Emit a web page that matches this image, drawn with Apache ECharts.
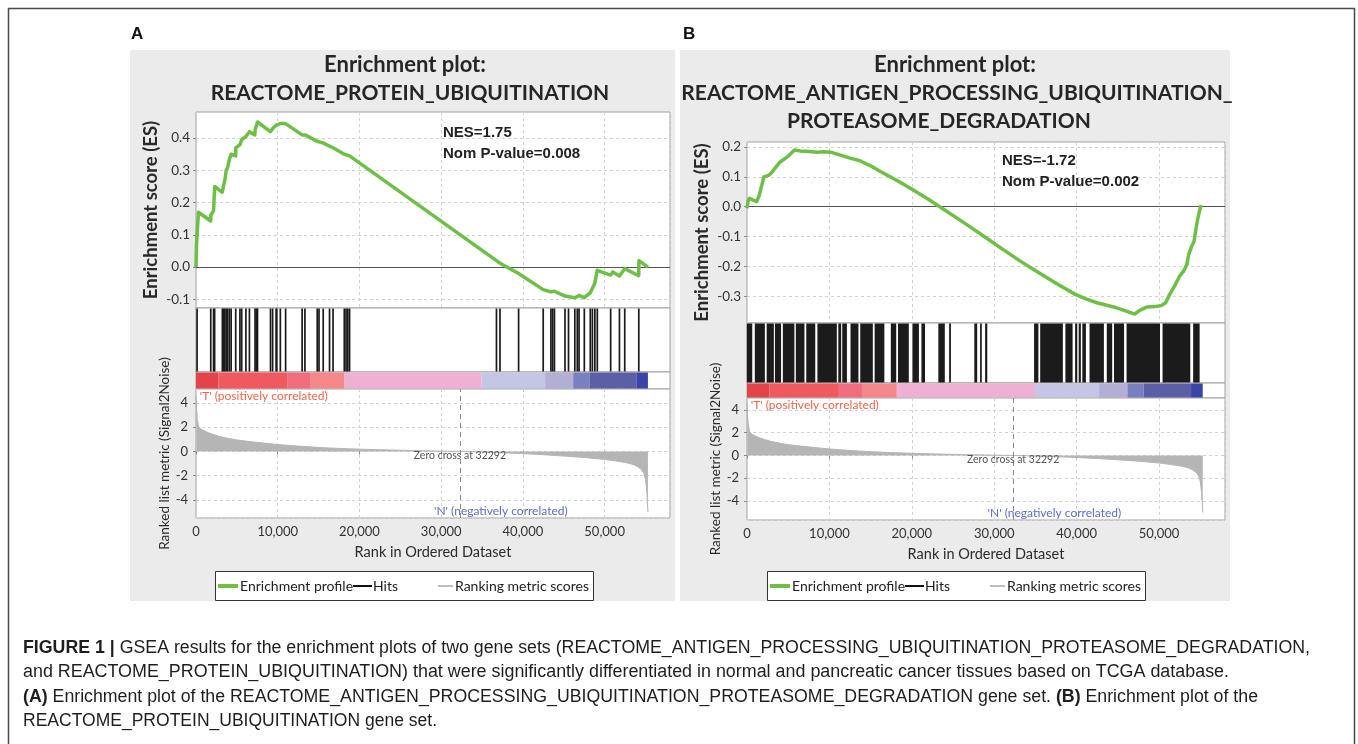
<!DOCTYPE html>
<html><head><meta charset="utf-8">
<script src="https://cdn.jsdelivr.net/npm/echarts@6/dist/echarts.min.js"></script>
<style>html,body{margin:0;padding:0;background:#fff}#c{width:1358px;height:744px}</style>
</head><body><div id="c"></div>
<script>
// ---------------- DATA ----------------
const rankMax = 58000;
const zeroCross = 32292;
const titleA = ['Enrichment plot:', 'REACTOME_PROTEIN_UBIQUITINATION'];
const titleB = ['Enrichment plot:', 'REACTOME_ANTIGEN_PROCESSING_UBIQUITINATION_', 'PROTEASOME_DEGRADATION'];
const statsA = ['NES=1.75', 'Nom P-value=0.008'];
const statsB = ['NES=-1.72', 'Nom P-value=0.002'];
const legendNames = ['Enrichment profile', 'Hits', 'Ranking metric scores'];

// running enrichment score, panel A: [rank, ES]
const esA = [[0,0],[60,0.07],[300,0.17],[1800,0.143],[1810,0.16],[2150,0.175],[2280,0.25],[3200,0.232],[3360,0.25],[3530,0.27],[3700,0.3],[3880,0.31],[4090,0.335],[4300,0.35],[4860,0.345],[4870,0.37],[5380,0.38],[5600,0.395],[6110,0.405],[6540,0.42],[7200,0.41],[7230,0.425],[7530,0.45],[9100,0.42],[9380,0.43],[9800,0.44],[10320,0.445],[10960,0.445],[12980,0.41],[13330,0.41],[14840,0.39],[15570,0.385],[16340,0.375],[16770,0.37],[18150,0.35],[18790,0.345],[36760,0.02],[37200,0.012],[39470,-0.02],[42480,-0.07],[43430,-0.077],[43860,-0.075],[45150,-0.09],[46350,-0.095],[46870,-0.088],[47500,-0.095],[48250,-0.08],[48800,-0.05],[49100,-0.01],[50740,-0.025],[51000,-0.015],[51815,-0.028],[52460,-0.005],[54170,-0.027],[54200,0.02],[55300,0.0]];
// running enrichment score, panel B
const esB = [[0,-0.005],[150,0.02],[300,0.028],[740,0.022],[1180,0.017],[1500,0.04],[2050,0.1],[2620,0.105],[3000,0.115],[3360,0.128],[4020,0.15],[4890,0.167],[5760,0.19],[6500,0.187],[7510,0.185],[8500,0.183],[9260,0.184],[10130,0.183],[11440,0.172],[12500,0.163],[13620,0.155],[15000,0.137],[16240,0.117],[18200,0.088],[20170,0.056],[22000,0.025],[23670,-0.005],[26720,-0.061],[29000,-0.104],[31090,-0.144],[33300,-0.185],[35460,-0.222],[37700,-0.26],[39830,-0.294],[41200,-0.31],[42450,-0.322],[44850,-0.339],[46200,-0.352],[47030,-0.36],[47700,-0.347],[48560,-0.336],[49500,-0.335],[50310,-0.331],[50800,-0.322],[51180,-0.3],[51900,-0.265],[52490,-0.233],[53000,-0.215],[53360,-0.195],[53600,-0.16],[53800,-0.145],[54000,-0.13],[54240,-0.117],[54450,-0.08],[54670,-0.044],[54900,-0.015],[55110,0.006]];

// hit positions (rank), panel A
const hitsA = [130,1806,2150,2279,3225,3354,3526,3698,3870,4085,4300,4859,5375,5590,6106,6536,7224,7396,7525,9116,9374,9804,9890,10320,10965,12986,13330,14835,15050,15566,16340,16770,18146,18361,18576,18791,36765,37195,39474,42484,43430,43645,43860,45150,45580,46354,46655,46870,47515,48246,48504,48805,49106,50740,51815,52460,54180];
// hit blocks (rank ranges), panel B (dense hits)
const hitsB = [[87,742],[1048,2271],[2489,3363],[3494,4236],[4454,5852],[6026,7074],[7293,8385],[8647,11005],[11180,11529],[11660,12228],[12664,13625],[13843,15372],[15590,16769],[17555,18210],[18428,19738],[20175,20962],[21268,21705],[23320,24106],[24630,24848],[27686,28035],[28385,28559],[28996,29258],[34936,35460],[35678,38430],[38736,39609],[39915,40178],[40353,40615],[40790,41226],[41663,43410],[43759,44414],[44632,45855],[46160,50220],[50526,53889],[54238,55024]];

// colour bar boundaries (rank) and segment colours
const barBounds = [0,2750,11150,13950,18180,34950,42720,46150,48140,53880,55300];
const barColors = ['#e2444a','#f05a5f','#f06d7d','#f58788','#efb1d1','#c5c6e6','#b2aed6','#7980c0','#5a5fa6','#3a46a6'];

// ranked list metric (Signal2Noise)
const metricRank = [0,60,150,300,600,1000,1500,2200,3000,4000,5000,6500,8000,10000,12500,15000,17500,20000,23000,26000,29000,32292,35000,38000,40000,42500,45000,47500,50000,51500,52800,53600,54100,54500,54800,55000,55150,55300];
const metricVal  = [4.6,3.6,2.7,2.1,1.85,1.7,1.55,1.38,1.22,1.07,0.95,0.82,0.71,0.57,0.44,0.33,0.25,0.19,0.13,0.08,0.04,0,-0.05,-0.12,-0.18,-0.27,-0.38,-0.5,-0.66,-0.8,-0.95,-1.1,-1.28,-1.5,-1.8,-2.3,-3.2,-5.0];

const esRangeA = [-0.127, 0.481];
const esRangeB = [-0.39, 0.217];
const metRangeA = [-5.5, 5.16];
const metRangeB = [-5.66, 5.04];

// caption text (b = bold run, n = normal run)
const captionLines = [
  [['b','FIGURE 1 | '],['n','GSEA results for the enrichment plots of two gene sets (REACTOME_ANTIGEN_PROCESSING_UBIQUITINATION_PROTEASOME_DEGRADATION,']],
  [['n','and REACTOME_PROTEIN_UBIQUITINATION) that were significantly differentiated in normal and pancreatic cancer tissues based on TCGA database.']],
  [['b','(A)'],['n',' Enrichment plot of the REACTOME_ANTIGEN_PROCESSING_UBIQUITINATION_PROTEASOME_DEGRADATION gene set. '],['b','(B)'],['n',' Enrichment plot of the']],
  [['n','REACTOME_PROTEIN_UBIQUITINATION gene set.']]
];

// ---------------- LAYOUT / STYLE ----------------
const FONT = 'Lato, "Open Sans", sans-serif';
const ARIAL = '"Liberation Sans", Arial, sans-serif';
const CAPFAM = '"Liberation Sans", Arial, sans-serif';
const GREEN = '#6dbf45';
const P = [
  {left:196, width:474, es:[112,196], hits:[308,64], bar:[372,17], met:[389,129], esR:esRangeA, metR:metRangeA, esData:esA},
  {left:747, width:478, es:[142,181], hits:[323,60], bar:[383,15], met:[398,122], esR:esRangeB, metR:metRangeB, esData:esB}
];
const captionY = [648, 672, 697, 721];
const captionRight = [1310, 1229, 1258, 437];
const captionLeft = 23;

const metricData = metricRank.map((r,i)=>[r, metricVal[i]]);
const grids = [], xAxes = [], yAxes = [], series = [];
const splitStyle = {type:[3,3], color:'#d2d2d2', width:1};
const fmtK = v => Math.round(v).toString().replace(/\B(?=(\d{3})+(?!\d))/g, ',');

P.forEach((p, pi) => {
  const base = pi*4;
  ['es','hits','bar','met'].forEach(k => {
    grids.push({left:p.left, width:p.width, top:p[k][0], height:p[k][1], show:true, borderColor:'#a0a0a0', borderWidth:1, backgroundColor:'#fff', containLabel:false});
  });
  xAxes.push({type:'value', gridIndex:base, min:0, max:rankMax, axisLine:{show:false}, axisTick:{show:false}, axisLabel:{show:false}, splitLine:{show:true, lineStyle:splitStyle}});
  yAxes.push({type:'value', gridIndex:base, min:p.esR[0], max:p.esR[1], axisLine:{show:false},
    axisTick:{show:true, length:3, lineStyle:{color:'#888'}},
    axisLabel:{color:'#333', fontSize:13.5, fontFamily:FONT, margin:6, showMinLabel:false, showMaxLabel:false, formatter:v=>v.toFixed(1)},
    splitLine:{show:true, lineStyle:splitStyle},
    name:'Enrichment score (ES)', nameLocation:'middle', nameGap:35, nameRotate:90,
    nameTextStyle:{fontFamily:FONT, fontWeight:'bold', fontSize:18.5, color:'#2a2a2a'}});
  xAxes.push({type:'value', gridIndex:base+1, min:0, max:rankMax, show:false});
  yAxes.push({type:'value', gridIndex:base+1, min:0, max:1, show:false});
  xAxes.push({type:'value', gridIndex:base+2, min:0, max:rankMax, show:false});
  yAxes.push({type:'value', gridIndex:base+2, min:0, max:1, show:false});
  xAxes.push({type:'value', gridIndex:base+3, min:0, max:rankMax, axisLine:{show:false},
    axisTick:{show:true, length:3, lineStyle:{color:'#888'}},
    axisLabel:{color:'#333', fontSize:13, fontFamily:FONT, margin:7, showMaxLabel:false, formatter:fmtK},
    splitLine:{show:true, lineStyle:splitStyle},
    name:'Rank in Ordered Dataset', nameLocation:'middle', nameGap:27,
    nameTextStyle:{fontFamily:FONT, fontSize:14.5, color:'#2a2a2a'}});
  yAxes.push({type:'value', gridIndex:base+3, min:p.metR[0], max:p.metR[1], axisLine:{show:false},
    axisTick:{show:true, length:3, lineStyle:{color:'#888'}},
    axisLabel:{color:'#333', fontSize:13, fontFamily:FONT, margin:8, showMinLabel:false, showMaxLabel:false},
    splitLine:{show:true, lineStyle:splitStyle},
    name:'Ranked list metric (Signal2Noise)', nameLocation:'middle', nameGap:23, nameRotate:90,
    nameTextStyle:{fontFamily:FONT, fontSize:13.5, color:'#2a2a2a'}});

  series.push({name:legendNames[0], type:'line', xAxisIndex:base, yAxisIndex:base, data:p.esData, symbol:'none',
    lineStyle:{color:GREEN, width:3.5, join:'round'}, z:5, silent:true, animation:false,
    markLine:{silent:true, symbol:['none','none'], label:{show:false}, lineStyle:{color:'#555', width:1, type:'solid'}, data:[{yAxis:0}], animation:false}});
  const hitData = pi===0 ? hitsA.map(r=>[r,r]) : hitsB;
  series.push({name:legendNames[1], type:'custom', xAxisIndex:base+1, yAxisIndex:base+1, data:hitData, silent:true, animation:false,
    renderItem:(params, api) => {
      const s = api.coord([api.value(0), 0]);
      const e = api.coord([api.value(1), 0]);
      const cs = params.coordSys;
      const w = Math.max(e[0]-s[0], 1.7);
      return {type:'rect', shape:{x:s[0]-0.85, y:cs.y+0.5, width:w, height:cs.height-1}, style:{fill:'#1b1b1b'}};
    }});
  const barData = barColors.map((c,i)=>[barBounds[i], barBounds[i+1], i]);
  series.push({name:'Ranked list colour bar', type:'custom', xAxisIndex:base+2, yAxisIndex:base+2, data:barData, silent:true, animation:false,
    renderItem:(params, api) => {
      const s = api.coord([api.value(0), 0]);
      const e = api.coord([api.value(1), 0]);
      const cs = params.coordSys;
      return {type:'rect', shape:{x:s[0], y:cs.y+0.5, width:e[0]-s[0], height:cs.height-1}, style:{fill:barColors[api.value(2)]}};
    }});
  series.push({name:legendNames[2], type:'line', xAxisIndex:base+3, yAxisIndex:base+3, data:metricData, symbol:'none',
    lineStyle:{color:'#b5b5b5', width:1}, areaStyle:{color:'#b5b5b5', opacity:1, origin:0}, silent:true, animation:false,
    markLine:{silent:true, symbol:['none','none'], label:{show:false}, lineStyle:{color:'#8a8a8a', width:1, type:[5,4]}, data:[{xAxis:zeroCross}], animation:false}});
});

// ---------------- STATIC GRAPHICS ----------------
function txt(x, y, text, style, z) {
  return {type:'text', x:x, y:y, z:z||100, silent:true, style:Object.assign({text:text, fill:'#222', textVerticalAlign:'middle'}, style)};
}
function legendGroup(x0) {
  return [
    {type:'rect', shape:{x:x0+0.5, y:571.5, width:378, height:29}, style:{fill:'#fff', stroke:'#333', lineWidth:1}, z:90, silent:true},
    {type:'line', shape:{x1:x0+3, y1:586, x2:x0+23, y2:586}, style:{stroke:GREEN, lineWidth:4}, z:95, silent:true},
    txt(x0+25, 586, legendNames[0], {font:'14px '+FONT, fill:'#222'}),
    {type:'line', shape:{x1:x0+138, y1:586, x2:x0+157, y2:586}, style:{stroke:'#111', lineWidth:2}, z:95, silent:true},
    txt(x0+158, 586, legendNames[1], {font:'14px '+FONT, fill:'#222'}),
    {type:'line', shape:{x1:x0+223, y1:586, x2:x0+238, y2:586}, style:{stroke:'#bdbdbd', lineWidth:2}, z:95, silent:true},
    txt(x0+240, 586, legendNames[2], {font:'14px '+FONT, fill:'#222'})
  ];
}
const TITLEFONT = 'bold 21px ' + FONT;
const CAPSIZE = 18;
const capFontN = CAPSIZE + 'px ' + CAPFAM;
const capFontB = 'bold ' + CAPSIZE + 'px ' + CAPFAM;
const mctx = document.createElement('canvas').getContext('2d');

const graphics = [
  {type:'rect', shape:{x:8.5, y:8.5, width:1346, height:760}, style:{fill:'#fff', stroke:'#4a4a4a', lineWidth:1.5}, z:-200, silent:true},
  {type:'rect', shape:{x:130, y:50, width:545, height:551}, style:{fill:'#ebebeb'}, z:-100, silent:true},
  {type:'rect', shape:{x:680, y:50, width:550, height:551}, style:{fill:'#ebebeb'}, z:-100, silent:true},
  txt(131, 34, 'A', {font:'bold 17px '+ARIAL, fill:'#111'}),
  txt(683, 34, 'B', {font:'bold 17px '+ARIAL, fill:'#111'}),
  txt(405, 65, titleA[0], {font:'bold 22px '+FONT, fill:'#262626', textAlign:'center'}),
  txt(410, 93, titleA[1], {font:TITLEFONT, fill:'#262626', textAlign:'center'}),
  txt(955, 65, titleB[0], {font:'bold 22px '+FONT, fill:'#262626', textAlign:'center'}),
  txt(957, 93, titleB[1], {font:TITLEFONT, fill:'#262626', textAlign:'center'}),
  txt(939, 121, titleB[2], {font:TITLEFONT, fill:'#262626', textAlign:'center'}),
  txt(443, 133, statsA[0], {font:'bold 15px '+ARIAL, fill:'#222'}),
  txt(443, 154, statsA[1], {font:'bold 15px '+ARIAL, fill:'#222'}),
  txt(1002, 161, statsB[0], {font:'bold 15px '+ARIAL, fill:'#222'}),
  txt(1002, 182, statsB[1], {font:'bold 15px '+ARIAL, fill:'#222'})
].concat(legendGroup(215), legendGroup(767));

// caption: each line scaled uniformly so it spans the same width as in the figure
captionLines.forEach((runs, i) => {
  const chunks = runs.map(r => {
    const font = r[0]==='b' ? capFontB : capFontN;
    mctx.font = font;
    return {s:r[1], font:font, w:mctx.measureText(r[1]).width};
  });
  const total = chunks.reduce((a,c)=>a+c.w, 0);
  const sx = (captionRight[i] - captionLeft) / total;
  let x = captionLeft;
  chunks.forEach(c => {
    graphics.push({type:'text', x:x, y:captionY[i], scaleX:sx, z:100, silent:true,
      style:{text:c.s, font:c.font, fill:'#1e1e1e', textVerticalAlign:'middle'}});
    x += c.w * sx;
  });
});

const chart = echarts.init(document.getElementById('c'), null, {width:1358, height:744});
chart.setOption({
  animation:false,
  backgroundColor:'transparent',
  grid:grids, xAxis:xAxes, yAxis:yAxes, series:series,
  graphic:{elements:graphics}
});

const extra = [];
P.forEach((p, pi) => {
  const gi = pi*4+3;
  const zc = chart.convertToPixel({xAxisIndex:gi, yAxisIndex:gi}, [zeroCross, 0]);
  const tp = chart.convertToPixel({xAxisIndex:gi, yAxisIndex:gi}, [450, 0]);
  const np = chart.convertToPixel({xAxisIndex:gi, yAxisIndex:gi}, [37300, 0]);
  const top = p.met[0], bot = p.met[0] + p.met[1];
  extra.push(txt(tp[0], top+7, "'T' (positively correlated)", {font:'12px '+FONT, fill:'#f0664e'}));
  extra.push(txt(np[0], bot-7, "'N' (negatively correlated)", {font:'12px '+FONT, fill:'#5b6ec6', textAlign:'center'}));
  extra.push(txt(zc[0], zc[1]+4, 'Zero cross at ' + zeroCross, {font:'10.5px '+FONT, fill:'#555', textAlign:'center'}));
});
chart.setOption({graphic:{elements:graphics.concat(extra)}}, {replaceMerge:['graphic']});
</script>
</body></html>
